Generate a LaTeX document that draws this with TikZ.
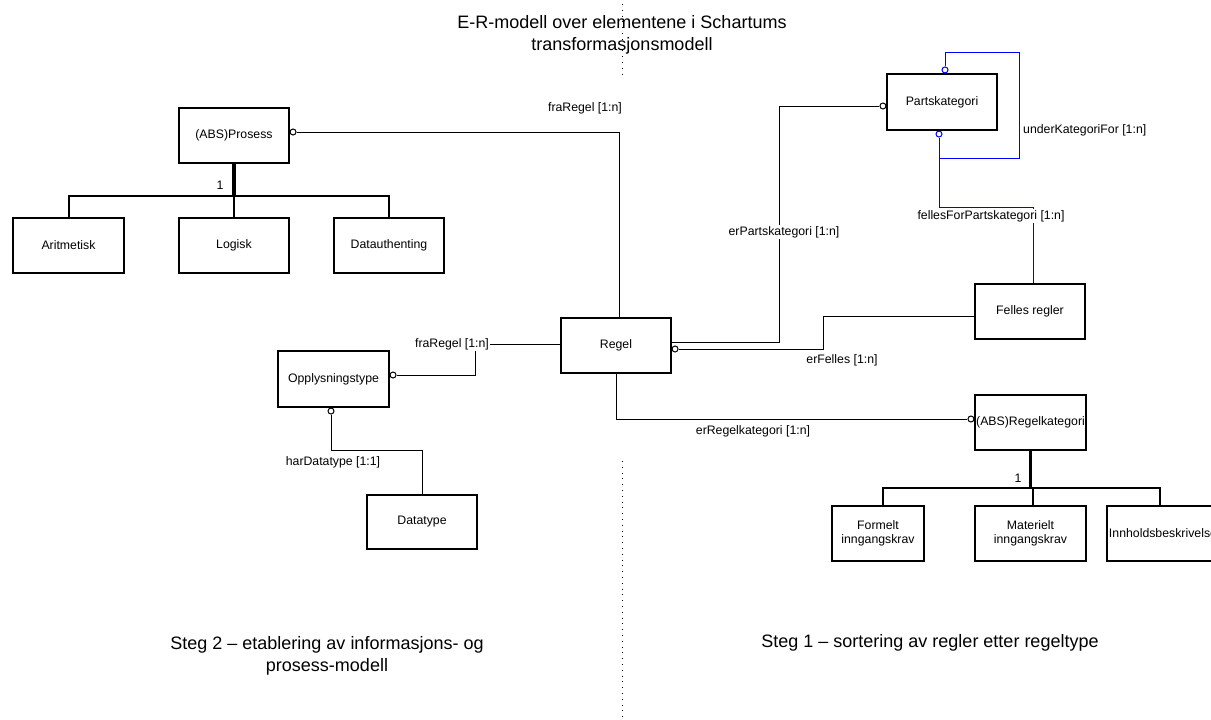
\documentclass[tikz,border=0pt]{standalone}
\usepackage{fontspec}
\setmainfont{Liberation Sans}
\usetikzlibrary{calc}
\newcommand{\boxfont}{\fontsize{12.3}{14}\selectfont}
\newcommand{\headfont}{\fontsize{18}{22}\selectfont}
\begin{document}
\begin{tikzpicture}[x=1pt,y=-1pt,
  entity/.style={draw, rectangle, line width=1.1pt, minimum width=110pt, minimum height=55pt,
                 inner sep=0pt, font=\boxfont, align=center},
  link/.style={line width=1pt},
  bluelink/.style={line width=1pt, blue},
  ocirc/.style={draw, circle, fill=white, line width=1pt, inner sep=0pt, minimum size=6pt},
  role/.style={font=\boxfont, inner sep=1pt},
  rolebg/.style={font=\boxfont, inner sep=1pt, fill=white},
  heading/.style={font=\headfont, align=center},
  isa/.style={line width=3.2pt},
  isabar/.style={line width=2pt},
  divider/.style={line width=0.9pt, dash pattern=on 1pt off 4.8pt}]
\useasboundingbox (0,0) rectangle (1211,720);
\fill[white] (0,0) rectangle (1211,720);

% dividing line between the two steps
\draw[divider] (622,4) -- (622,76);
\draw[divider] (622,461) -- (622,720);

% headings
\node[heading] (title) at (622,35) {E-R-modell over elementene i Schartums\\transformasjonsmodell};
\node[heading] (steg2) at (327,656) {Steg 2 -- etablering av informasjons- og\\prosess-modell};
\node[heading] (steg1) at (930,643) {Steg 1 -- sortering av regler etter regeltype};

% entities, step 2
\node[entity] (prosess) at (234,135.5) {(ABS)Prosess};
\node[entity, minimum width=111pt] (aritm) at (68.5,245.5) {Aritmetisk};
\node[entity] (logisk) at (234,245.5) {Logisk};
\node[entity] (dataut) at (389,245.5) {Datauthenting};
\node[entity] (regel) at (616,345.5) {Regel};
\node[entity, minimum width=111pt, minimum height=56pt] (opplys) at (333.5,379) {Opplysningstype};
\node[entity, minimum height=54pt] (datatype) at (422,522) {Datatype};

% entities, step 1
\node[entity, minimum height=56pt] (parts) at (942,102) {Partskategori};
\node[entity] (felles) at (1030,311.5) {Felles regler};
\node[entity, minimum width=111pt] (regkat) at (1030.5,422.5) {(ABS)Regelkategori};
\node[entity, minimum width=92pt] (formelt) at (878,533.5) {Formelt\\inngangskrav};
\node[entity, minimum width=111pt] (materielt) at (1030.5,533.5) {Materielt\\inngangskrav};
\node[entity, minimum width=112pt] (innhold) at (1163,533.5) {Innholdsbeskrivelse};

% optional-end circles
\node[ocirc, anchor=west] (cProsess) at ([yshift=3.5pt]prosess.east) {};
\node[ocirc, anchor=west] (cOpplys) at ([yshift=4pt]opplys.east) {};
\node[ocirc, anchor=north] (cOpplysD) at ([xshift=-2.5pt]opplys.south) {};
\node[ocirc, anchor=east] (cRegkat) at ([yshift=3.5pt]regkat.west) {};
\node[ocirc, anchor=east] (cParts) at ([yshift=-4pt]parts.west) {};
\node[ocirc, anchor=west] (cRegelF) at ([yshift=-3.5pt]regel.east) {};
\node[ocirc, draw=blue, anchor=north] (cPartsS) at ([xshift=-3pt]parts.south) {};
\node[ocirc, draw=blue, anchor=south] (cPartsN) at ([xshift=3pt]parts.north) {};

% generalisation of (ABS)Prosess
\draw[isa] (prosess.south) -- (234,196);
\draw[isabar] (aritm.north) |- (dataut.north |- 0,196) -- (dataut.north);
\draw[isabar] (logisk.north) -- (234,196);
\node[role] (one1) at (220,185) {1};

% generalisation of (ABS)Regelkategori
\draw[isa] (regkat.south) -- (1030.5,488);
\draw[isabar] ([xshift=5pt]formelt.north) |- ([xshift=-3pt]innhold.north |- 0,488) -- ([xshift=-3pt]innhold.north);
\draw[isabar] ([xshift=2.5pt]materielt.north) -- ([xshift=2.5pt]materielt.north |- 0,488);
\node[role] (one2) at (1018,478) {1};

% relationships
\draw[link] (cProsess) -| ([xshift=3pt]regel.north);
\node[role] (lfra1) at (585,108) {fraRegel [1:n]};

\draw[link] ([yshift=1.5pt]regel.west) -- (475,344) |- (cOpplys);
\node[rolebg] (lfra2) at (452,344) {fraRegel [1:n]};

\draw[link] (cOpplysD) |- (422,450) -- (datatype.north);
\node[role] (lhar) at (333,462) {harDatatype [1:1]};

\draw[link] (regel.south) |- (cRegkat);
\node[role] (lregkat) at (753,431) {erRegelkategori [1:n]};

\draw[link] ([yshift=3.5pt]regel.east) -- (779,342) |- (cParts);
\node[rolebg] (lparts) at (784,232) {erPartskategori [1:n]};

\draw[link] (cRegelF) -- (823,349) |- ([yshift=-4.5pt]felles.west);
\node[role] (lfelles) at (842,360) {erFelles [1:n]};

\draw[bluelink] (cPartsS) |- (1033,207) -- ([xshift=3pt]felles.north);
\node[rolebg] (lfpk) at (991,216) {fellesForPartskategori [1:n]};

\draw[bluelink] (cPartsN) |- (1019,52) |- (939,158);
\node[role, anchor=west] (lunder) at (1022,130) {underKategoriFor [1:n]};
\end{tikzpicture}
\end{document}
